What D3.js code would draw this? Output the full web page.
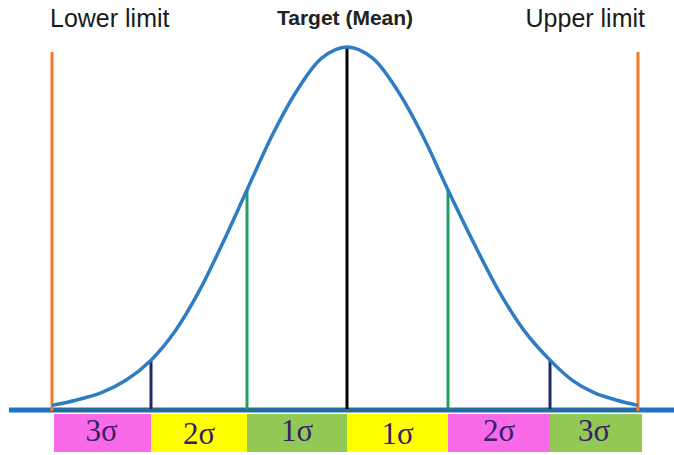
<!DOCTYPE html>
<html>
<head>
<meta charset="utf-8">
<script src="https://cdn.jsdelivr.net/npm/d3@7"></script>
<style>
  body { margin: 0; background: #fff; }
  text { font-family: "Liberation Sans", Arial, sans-serif; }
</style>
</head>
<body>
<div id="viz"></div>
<script>
// curve: position in sigma, height relative to the peak
var sigmaPos = [-3, -2.75, -2.5, -2.25, -2, -1.75, -1.5, -1.25, -1, -0.75, -0.5, -0.25, 0,
                0.25, 0.5, 0.75, 1, 1.25, 1.5, 1.75, 2, 2.25, 2.5, 2.75, 3];
var heights = [0.01, 0.025, 0.045, 0.08, 0.135, 0.215, 0.325, 0.46, 0.605, 0.755, 0.88, 0.97, 1,
               0.97, 0.88, 0.755, 0.605, 0.46, 0.325, 0.215, 0.135, 0.08, 0.045, 0.025, 0.01];

// sigma bands under the axis
var bandStart = [-3, -2, -1, 0, 1, 2];
var bandLabels = ['3σ', '2σ', '1σ', '1σ', '2σ', '3σ'];
var bandColors = ['#f86ae8', '#ffff00', '#92c955', '#ffff00', '#f86ae8', '#92c955'];

// vertical markers
var markerPos = [-2, -1, 0, 1, 2];
var markerColors = ['#1f2a66', '#22a060', '#000000', '#22a060', '#1f2a66'];
var limitPos = [-3, 3];

var titles = ['Lower limit', 'Target (Mean)', 'Upper limit'];

var width = 674, height = 455;

var svg = d3.select('#viz')
  .append('svg')
  .attr('width', width)
  .attr('height', height);

// the source picture is not quite even, so the scale follows the drawn sigma lines
var x = d3.scaleLinear()
  .domain([-3, -2, -1, 0, 1, 2, 3])
  .range([52, 151, 247, 347, 448, 550, 638]);

var y = d3.scaleLinear()
  .domain([0, 1])
  .range([409, 47]);

var curveData = sigmaPos.map(function(s, i) { return {s: s, h: heights[i]}; });
function heightAt(s) {
  return heights[sigmaPos.indexOf(s)];
}

// bands
var bands = svg.append('g');
bands.selectAll('rect')
  .data(bandStart)
  .join('rect')
  .attr('x', d => x(d) + (d == -3 ? 2 : 0))
  .attr('width', d => x(d + 1) - x(d) + (d == 2 ? 4 : 0) - (d == -3 ? 2 : 0))
  .attr('y', 414)
  .attr('height', 38)
  .attr('fill', (d, i) => bandColors[i]);

bands.selectAll('text')
  .data(bandStart)
  .join('text')
  .attr('x', d => (x(d) + x(d + 1)) / 2)
  .attr('y', (d, i) => i == 1 || i == 3 ? 444 : 441)
  .attr('text-anchor', 'middle')
  .style('font-family', '"Liberation Serif", "Times New Roman", serif')
  .style('font-size', '31px')
  .attr('fill', '#35206a')
  .text((d, i) => bandLabels[i]);

// baseline
svg.append('line')
  .attr('x1', 9).attr('x2', width)
  .attr('y1', y(0) + 1).attr('y2', y(0) + 1)
  .attr('stroke', '#1f72c4')
  .attr('stroke-width', 5);
svg.append('line')
  .attr('x1', x(-3)).attr('x2', x(3))
  .attr('y1', y(0) + 1).attr('y2', y(0) + 1)
  .attr('stroke', '#2a6a8c')
  .attr('stroke-width', 3);

// sigma markers up to the curve
svg.append('g')
  .selectAll('line')
  .data(markerPos)
  .join('line')
  .attr('x1', d => x(d)).attr('x2', d => x(d))
  .attr('y1', y(0))
  .attr('y2', d => y(heightAt(d)))
  .attr('stroke', (d, i) => markerColors[i])
  .attr('stroke-width', 3);

// limit lines
svg.append('g')
  .selectAll('line')
  .data(limitPos)
  .join('line')
  .attr('x1', d => x(d)).attr('x2', d => x(d))
  .attr('y1', 52)
  .attr('y2', y(0) + 2)
  .attr('stroke', '#f07a2a')
  .attr('stroke-width', 3);

// bell curve
var line = d3.line()
  .x(d => x(d.s))
  .y(d => y(d.h))
  .curve(d3.curveCatmullRom);

svg.append('path')
  .datum(curveData)
  .attr('d', line)
  .attr('fill', 'none')
  .attr('stroke', '#2f7cc2')
  .attr('stroke-width', 3.5);

// titles
svg.append('text')
  .attr('x', 50).attr('y', 27)
  .style('font-size', '25px')
  .attr('fill', '#1a1a1a')
  .text(titles[0]);
svg.append('text')
  .attr('x', x(0) - 2).attr('y', 25)
  .attr('text-anchor', 'middle')
  .style('font-size', '21px')
  .style('font-weight', 'bold')
  .attr('fill', '#222')
  .text(titles[1]);
svg.append('text')
  .attr('x', 645).attr('y', 27)
  .attr('text-anchor', 'end')
  .style('font-size', '25px')
  .attr('fill', '#1a1a1a')
  .text(titles[2]);
</script>
</body>
</html>
